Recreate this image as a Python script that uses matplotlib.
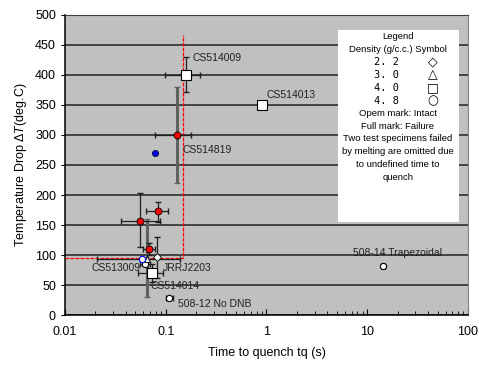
import numpy as np
from matplotlib import pyplot as plt

plt.rcParams['font.family'] = ['Liberation Sans', 'DejaVu Sans']
plt.rcParams['mathtext.fontset'] = 'custom'
plt.rcParams['mathtext.rm'] = 'Liberation Sans'
plt.rcParams['mathtext.it'] = 'Liberation Sans:italic'

# failed specimens (density 4.8, full red circle)
fail_x = [0.129, 0.083, 0.0555, 0.068]
fail_y = [300, 173, 157, 110]
fail_xlo = [0.078, 0.064, 0.036, 0.060]
fail_xhi = [0.180, 0.105, 0.088, 0.078]
fail_ylo = [220, 155, 113, 100]
fail_yhi = [380, 188, 203, 120]

# intact specimens, density 4.0 (open square)
sq_x = [0.159, 0.90, 0.073]
sq_y = [400, 350, 70]
sq_xlo = [0.099, 0.90, 0.053]
sq_xhi = [0.22, 0.90, 0.094]
sq_ylo = [372, 350, 55]
sq_yhi = [430, 350, 85]

# intact, density 4.8 (open circle)
circ_x = [0.062, 0.108, 14.3]
circ_y = [85, 28, 82]
circ_xlo = [0.055, 0.100, 13.6]
circ_xhi = [0.070, 0.117, 15.0]

# intact, density 2.2 (open diamond) and 3.0 (open triangle)
dia_x, dia_y, dia_ylo, dia_yhi = [0.081], [96], [62], [130]
tri_x, tri_y, tri_ylo, tri_yhi = [0.065], [93], [30], [160]

# blue marks
blue_x, blue_y = [0.078], [270]
bopen_x, bopen_y, bopen_xlo, bopen_xhi = [0.058], [93], [0.021], [0.14]

# failure boundary
bound_t = 0.15
bound_dt = 95
bound_top = 467

labels = ['CS514009', 'CS514013', 'CS514819', 'CS513009', 'JRRJ2203',
          'CS514014', '508-12 No DNB', '508-14 Trapezoidal']
label_xy = [(0.186, 428), (1.01, 367), (0.148, 275), (0.0185, 78), (0.094, 78),
            (0.071, 48), (0.132, 18), (7.2, 103)]

legend_head = ['Legend', 'Density (g/c.c.) Symbol']
legend_dens = ['2. 2', '3. 0', '4. 0', '4. 8']
legend_syms = ['\u25c7', '\u25b3', '\u25a1', '\u25cb']
legend_note = ['Opem mark: Intact', 'Full mark: Failure',
               'Two test specimens failed', 'by melting are omitted due',
               'to undefined time to', 'quench']


def asym(c, lo, hi):
    c = np.array(c)
    return [c - np.array(lo), np.array(hi) - c]


fig = plt.figure(figsize=(4.79, 3.72), dpi=100)
ax = fig.add_axes([0.1357, 0.153, 0.8413, 0.807])
ax.set_facecolor('#c0c0c0')
ax.set_xscale('log')
ax.set_xlim(0.01, 100)
ax.set_ylim(0, 500)
ax.set_yticks(np.arange(0, 501, 50))
ax.yaxis.grid(True, color='#202020', lw=1.1)
ax.set_axisbelow(True)

ax.plot([0.01, bound_t, bound_t], [bound_dt, bound_dt, bound_top],
        color='red', lw=0.9, ls=(0, (3, 1)), zorder=2)

eb = dict(fmt='none', ecolor='#202020', elinewidth=0.9, capsize=2.5, zorder=3)
ax.errorbar(tri_x, tri_y, yerr=asym(tri_y, tri_ylo, tri_yhi),
            fmt='none', ecolor='#606060', elinewidth=2.2, capsize=2.5, zorder=3)
ax.errorbar(fail_x[:1], fail_y[:1],
            yerr=asym(fail_y[:1], fail_ylo[:1], fail_yhi[:1]),
            fmt='none', ecolor='#606060', elinewidth=2.2, capsize=2.5, zorder=3)
ax.errorbar(fail_x, fail_y, xerr=asym(fail_x, fail_xlo, fail_xhi), **eb)
ax.errorbar(fail_x[1:], fail_y[1:],
            yerr=asym(fail_y[1:], fail_ylo[1:], fail_yhi[1:]), **eb)
ax.errorbar(sq_x, sq_y, xerr=asym(sq_x, sq_xlo, sq_xhi),
            yerr=asym(sq_y, sq_ylo, sq_yhi), **eb)
ax.errorbar(circ_x, circ_y, xerr=asym(circ_x, circ_xlo, circ_xhi), **eb)
ax.errorbar(dia_x, dia_y, yerr=asym(dia_y, dia_ylo, dia_yhi), **eb)
ax.errorbar(bopen_x, bopen_y, xerr=asym(bopen_x, bopen_xlo, bopen_xhi), **eb)

ax.plot(sq_x, sq_y, 's', ms=7, mfc='white', mec='black', mew=0.8, zorder=4)
ax.plot(circ_x, circ_y, 'o', ms=4.5, mfc='white', mec='black', mew=0.8, zorder=4)
ax.plot(dia_x, dia_y, 'D', ms=4.5, mfc='white', mec='black', mew=0.6, zorder=4)
ax.plot(tri_x, tri_y, '^', ms=5, mfc='white', mec='black', mew=0.6, zorder=4)
ax.plot(bopen_x, bopen_y, 'o', ms=4.5, mfc='white', mec='blue', mew=0.8, zorder=4)
ax.plot(fail_x, fail_y, 'o', ms=5, mfc='red', mec='black', mew=0.6, zorder=5)
ax.plot(blue_x, blue_y, 'o', ms=4.5, mfc='blue', mec='black', mew=0.5, zorder=5)

for t, (x, y) in zip(labels, label_xy):
    ax.text(x, y, t, fontsize=7.5, color='#202020', va='center', ha='left')

# legend box drawn as text
ax.add_patch(plt.Rectangle((0.677, 0.31), 0.30, 0.64, transform=ax.transAxes,
                           facecolor='white', edgecolor='none', zorder=6))
step = 0.0425
row = 0
for t in legend_head:
    ax.text(0.826, 0.927 - row * step, t, transform=ax.transAxes, fontsize=6.8,
            ha='center', va='center', zorder=7)
    row += 1
for d, s in zip(legend_dens, legend_syms):
    yy = 0.927 - row * step
    ax.text(0.797, yy, d, transform=ax.transAxes, fontsize=7.5,
            family='DejaVu Sans Mono', ha='center', va='center', zorder=7)
    ax.text(0.913, yy, s, transform=ax.transAxes, fontsize=9,
            family='DejaVu Sans', ha='center', va='center', zorder=7)
    row += 1
for t in legend_note:
    ax.text(0.826, 0.927 - row * step, t, transform=ax.transAxes, fontsize=6.8,
            ha='center', va='center', zorder=7)
    row += 1

ax.tick_params(axis='x', which='both', direction='in', labelsize=9, pad=8)
ax.tick_params(axis='x', which='major', length=4)
ax.tick_params(axis='x', which='minor', length=3)
ax.tick_params(axis='y', direction='out', length=3, labelsize=9)
ax.set_xticks([0.01, 0.1, 1, 10, 100])
ax.set_xticklabels(['0.01', '0.1', '1', '10', '100'])
for s in ['left', 'bottom']:
    ax.spines[s].set_color('black')
    ax.spines[s].set_linewidth(1.1)
ax.spines['top'].set_color('#404040')
ax.spines['right'].set_color('#808080')

ax.set_xlabel('Time to quench tq (s)', fontsize=9, labelpad=6)
ax.set_ylabel(r'Temperature Drop $\Delta\mathit{T}$(deg.C)', fontsize=9,
              labelpad=4)

fig.savefig('out.png', dpi=100)
plt.close(fig)
